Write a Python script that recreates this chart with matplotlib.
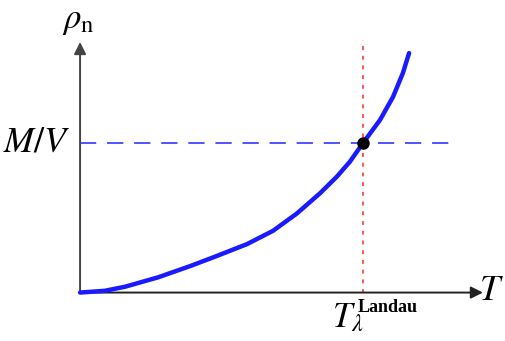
import matplotlib
matplotlib.use("Agg")
import matplotlib.pyplot as plt

plt.rcParams['mathtext.fontset'] = 'stix'
plt.rcParams['font.family'] = ['Liberation Serif', 'DejaVu Serif']

# normal-fluid density vs temperature (T in units of T_lambda, rho in units of M/V)
T = [0.0, 0.088, 0.159, 0.276, 0.389, 0.470, 0.590, 0.682, 0.767, 0.848,
     0.908, 0.954, 1.0, 1.060, 1.106, 1.141, 1.163]
rho_n = [0.0, 0.012, 0.039, 0.102, 0.177, 0.235, 0.324, 0.413, 0.530, 0.664,
         0.776, 0.876, 1.0, 1.154, 1.308, 1.468, 1.602]
T_lambda = 1.0
M_over_V = 1.0

fig = plt.figure(figsize=(5.05, 3.41), dpi=100)
ax = fig.add_axes([0, 0, 1, 1])
ax.set_xlim(-0.283, 1.502)
ax.set_ylim(-0.324, 1.957)
ax.axis('off')

# axes with arrow heads
ax.annotate('', xy=(1.424, 0), xytext=(0, 0),
            arrowprops=dict(arrowstyle='-|>', color='#222222', lw=1.4,
                            mutation_scale=18, shrinkA=0, shrinkB=0))
ax.annotate('', xy=(0, 1.676), xytext=(0, 0),
            arrowprops=dict(arrowstyle='-|>', color='#444444', lw=1.4,
                            mutation_scale=18, shrinkA=0, shrinkB=0))

# reference lines
ax.plot([0, 1.325], [M_over_V, M_over_V], color='#4444ff', lw=1.3,
        dashes=(9, 6))
ax.plot([T_lambda, T_lambda], [0, 1.69], color='#ff5555', lw=1.4,
        dashes=(2, 3))

ax.plot(T, rho_n, color='#1a1aff', lw=3.2, solid_capstyle='round',
        solid_joinstyle='round', zorder=3)
ax.plot([T_lambda], [M_over_V], 'o', color='black', ms=8, zorder=4)

# labels
ax.text(-0.007, 1.823, r'$\rho_{\mathrm{n}}$', fontsize=25, ha='center', va='center')
ax.text(-0.035, M_over_V, r'$M/V$', fontsize=26, ha='right', va='center')
ax.text(1.455, 0.005, r'$T$', fontsize=26, ha='center', va='center')
ax.text(0.89, -0.231, r'$T_{\lambda}$', fontsize=25, ha='left', va='baseline')
ax.text(0.980, -0.097, 'Landau', fontsize=13, fontweight='bold', ha='left', va='center')

fig.savefig('out.png', dpi=100)
